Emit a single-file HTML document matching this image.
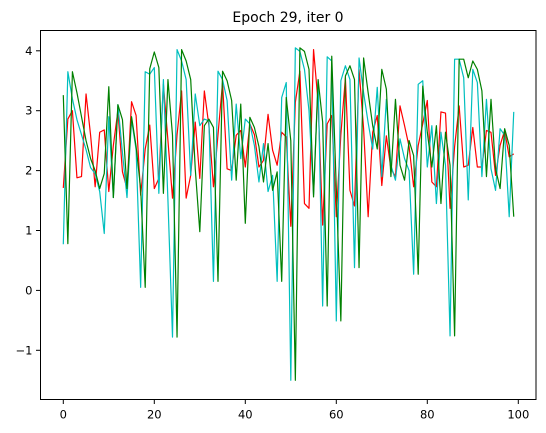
<!DOCTYPE html>
<html><head><meta charset="utf-8"><style>
html,body{margin:0;padding:0;background:#fff;}
svg{display:block;font-family:"DejaVu Sans","Liberation Sans",sans-serif;}
</style></head><body>
<svg id="chart" width="546" height="433" viewBox="0 0 546 433" xmlns="http://www.w3.org/2000/svg">
<rect x="0" y="0" width="546" height="433" fill="#fff"/>
<text x="288" y="22" font-size="14" text-anchor="middle" fill="#000">Epoch 29, iter 0</text>
<g id="series"></g>
<g id="axes"></g>
</svg>
<script>
const xTicks = [0, 20, 40, 60, 80, 100];
const yTicks = [-1, 0, 1, 2, 3, 4];
const redSeries = [1.71,2.86,3.0,1.88,1.9,3.28,2.59,1.73,2.64,2.68,1.65,2.42,3.0,1.98,1.70,3.15,2.92,1.59,2.36,2.76,
1.70,1.87,3.44,2.5,1.54,2.6,3.33,1.54,1.92,2.81,1.87,3.33,2.75,1.73,2.6,3.47,2.03,2.0,2.59,2.67,
2.06,2.78,2.6,2.06,2.17,2.94,2.34,2.09,2.64,2.56,1.07,3.14,3.66,1.45,1.37,4.02,3.14,1.09,2.78,2.92,
1.23,2.6,3.55,1.67,1.41,3.69,2.7,1.23,2.64,2.92,1.75,2.58,2.03,1.9,3.08,2.75,2.4,1.73,2.42,2.78,
3.17,1.81,1.73,2.98,2.96,1.37,2.4,3.08,2.06,2.09,2.72,2.06,2.06,2.67,2.64,1.92,2.42,2.67,2.23,2.28];
const cyanSeries = [0.77,3.65,3.2,2.85,2.6,2.35,2.05,1.95,1.65,0.95,2.9,1.55,3.1,2.3,1.55,2.85,2.35,0.05,3.65,3.61,
3.72,1.62,3.52,1.5,-0.78,4.02,3.83,3.52,1.92,3.28,2.75,2.86,2.83,0.15,3.66,3.52,3.17,1.84,3.11,2.2,
2.86,2.78,2.42,1.81,2.45,1.65,1.92,0.15,3.22,3.47,-1.5,4.05,3.99,3.69,3.0,1.6,3.5,-0.26,3.9,3.83,
-0.51,3.5,3.75,3.52,0.38,3.88,3.3,2.8,2.36,3.39,1.9,3.19,2.09,1.84,2.53,2.2,2.0,0.27,3.44,3.5,
2.06,2.75,1.45,2.64,2.09,-0.76,3.86,3.86,3.55,1.51,3.69,3.47,1.9,3.19,2.03,1.67,2.7,2.59,1.23,2.98];
const greenSeries = [3.26,0.78,3.65,3.3,2.9,2.5,2.2,2.0,1.7,1.95,3.4,1.55,3.1,2.85,1.7,2.9,2.4,1.7,0.05,3.7,
3.98,3.72,1.62,3.52,2.59,-0.78,4.02,3.83,3.52,2.03,0.98,2.75,2.86,2.72,0.15,3.66,3.5,3.17,1.84,3.11,
1.12,2.89,2.72,2.4,1.81,2.45,1.67,1.98,0.15,3.22,2.5,-1.5,4.05,3.99,3.69,1.56,3.52,2.81,-0.26,3.91,
1.7,-0.51,3.58,3.75,3.52,0.38,3.88,3.3,2.75,2.36,3.69,3.36,1.9,3.19,2.09,1.84,2.5,2.25,0.27,3.41,
2.64,2.06,2.75,1.45,2.64,2.09,-0.76,3.86,3.86,3.55,3.83,3.69,3.33,1.9,3.19,2.03,1.7,2.7,2.42,1.23];

const NS = "http://www.w3.org/2000/svg";
const plot = {left: 40.5, top: 30.5, right: 536, bottom: 399.5};
function xScale(v){ return 63.3 + v * 4.55; }
function yScale(v){ return 290.4 - v * 59.9; }

const seriesG = document.getElementById('series');
function drawLine(vals, color, name){
  const p = document.createElementNS(NS, 'polyline');
  p.setAttribute('points', vals.map((v,i)=>xScale(i).toFixed(2)+','+yScale(v).toFixed(2)).join(' '));
  p.setAttribute('fill', 'none');
  p.setAttribute('stroke', color);
  p.setAttribute('stroke-width', '1.2');
  p.setAttribute('stroke-linejoin', 'round');
  
  
  seriesG.appendChild(p);
}
drawLine(redSeries, '#ff0000', 'red-series-line');
drawLine(cyanSeries, '#00bfbf', 'cyan-series-line');
drawLine(greenSeries, '#008000', 'green-series-line');

const axesG = document.getElementById('axes');
const frame = document.createElementNS(NS, 'rect');
frame.setAttribute('x', plot.left); frame.setAttribute('y', plot.top);
frame.setAttribute('width', plot.right - plot.left); frame.setAttribute('height', plot.bottom - plot.top);
frame.setAttribute('fill', 'none'); frame.setAttribute('stroke', '#000'); frame.setAttribute('stroke-width', '1');


axesG.appendChild(frame);

xTicks.forEach(t=>{
  const x = xScale(t);
  const l = document.createElementNS(NS, 'line');
  l.setAttribute('x1', x); l.setAttribute('x2', x);
  l.setAttribute('y1', plot.bottom); l.setAttribute('y2', plot.bottom + 4.5);
  l.setAttribute('stroke', '#000');
  
  
  axesG.appendChild(l);
  const tx = document.createElementNS(NS, 'text');
  tx.setAttribute('x', x); tx.setAttribute('y', plot.bottom + 19);
  tx.setAttribute('font-size', '11.5'); tx.setAttribute('text-anchor', 'middle');
  tx.textContent = t;
  
  
  axesG.appendChild(tx);
});
yTicks.forEach(t=>{
  const y = yScale(t);
  const l = document.createElementNS(NS, 'line');
  l.setAttribute('x1', plot.left - 4.5); l.setAttribute('x2', plot.left);
  l.setAttribute('y1', y); l.setAttribute('y2', y);
  l.setAttribute('stroke', '#000');
  
  
  axesG.appendChild(l);
  const tx = document.createElementNS(NS, 'text');
  tx.setAttribute('x', plot.left - 8); tx.setAttribute('y', y + 4);
  tx.setAttribute('font-size', '11.5'); tx.setAttribute('text-anchor', 'end');
  tx.textContent = t < 0 ? '\u2212' + Math.abs(t) : t;
  
  
  axesG.appendChild(tx);
});
</script>
</body></html>
